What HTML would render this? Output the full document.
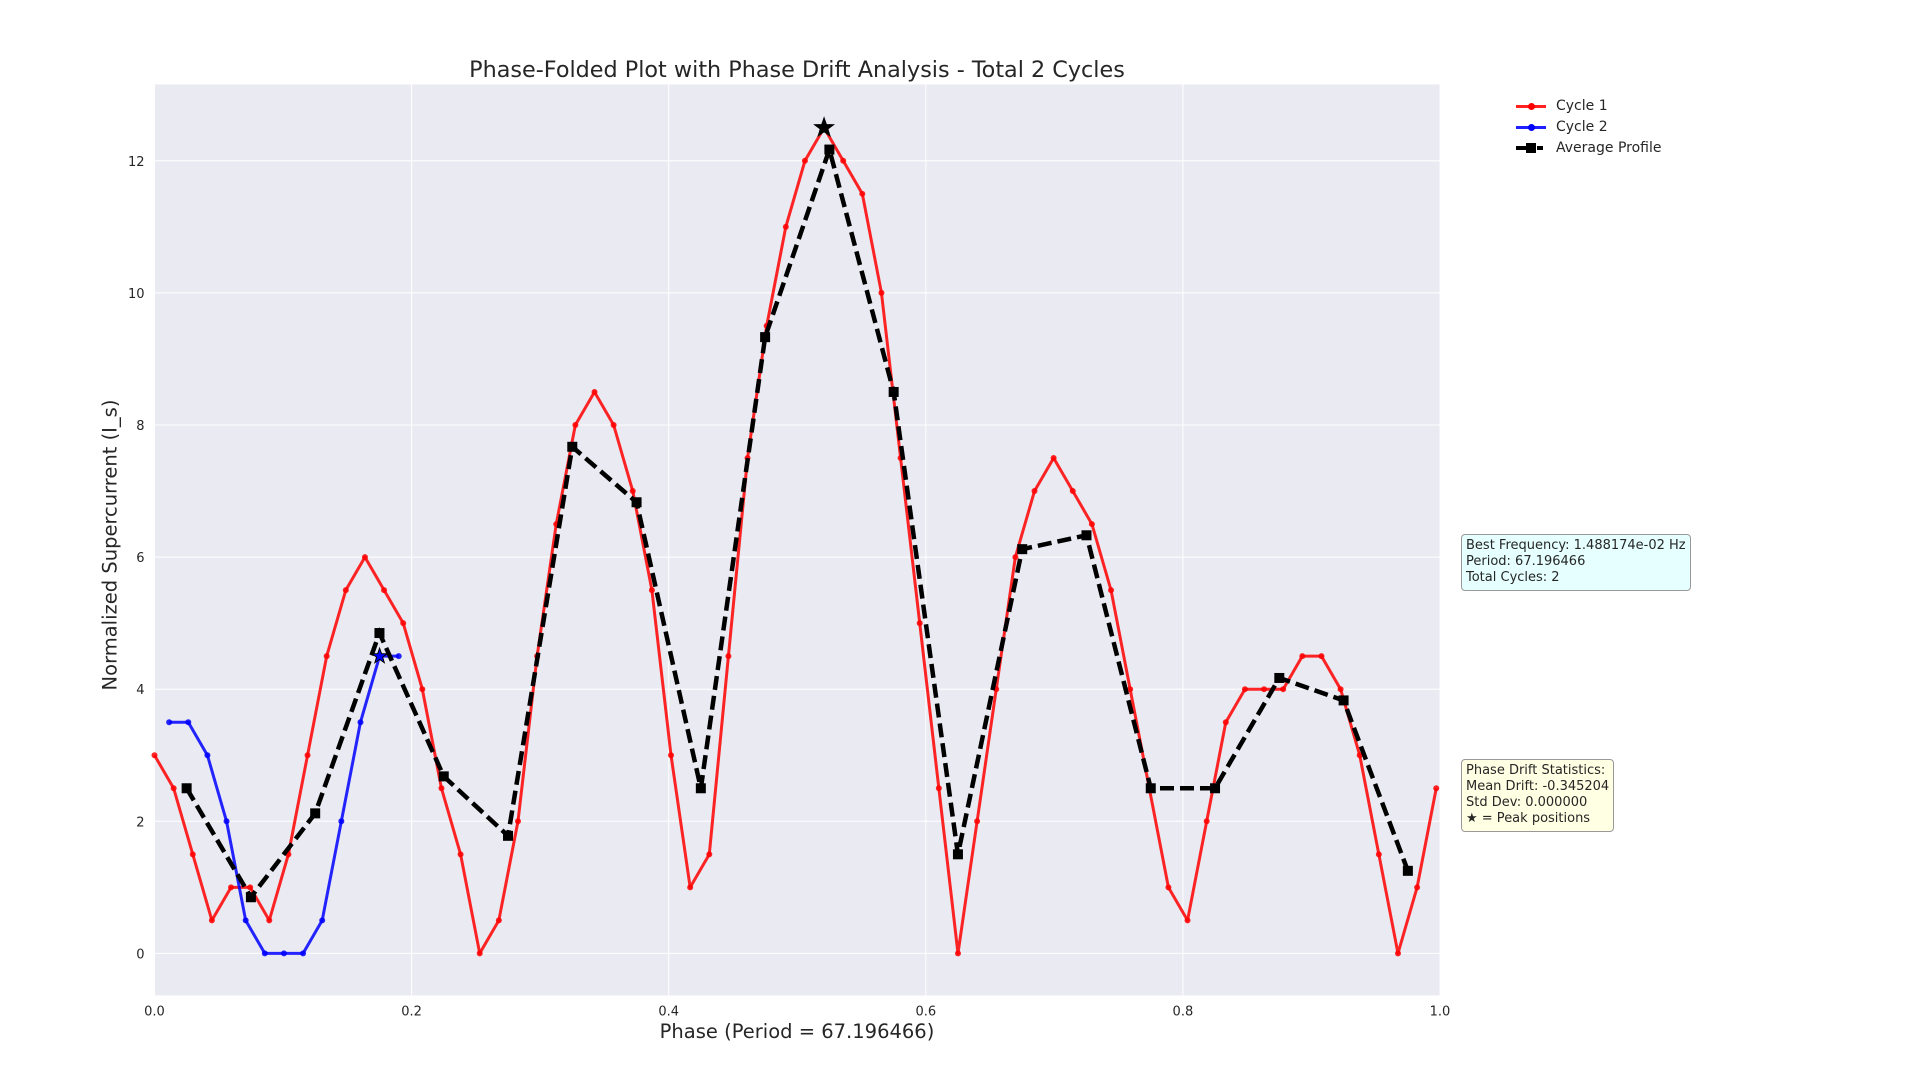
<!DOCTYPE html>
<html><head><meta charset="utf-8"><style>
body{margin:0;background:#fff;width:1920px;height:1080px;overflow:hidden;font-family:"DejaVu Sans","Liberation Sans",sans-serif;}
svg text{font-family:"DejaVu Sans","Liberation Sans",sans-serif;fill:#262626;}
</style></head><body>
<svg id="c" width="1920" height="1080"></svg>
<script>
const cycle1 = [3,2.5,1.5,0.5,1,1,0.5,1.5,3,4.5,5.5,6,5.5,5,4,2.5,1.5,0,0.5,2,4.5,6.5,8,8.5,8,7,5.5,3,1,1.5,4.5,7.5,9.5,11,12,12.5,12,11.5,10,7.5,5,2.5,0,2,4,6,7,7.5,7,6.5,5.5,4,2.5,1,0.5,2,3.5,4,4,4,4.5,4.5,4,3,1.5,0,1,2.5];
const cycle2 = [3.5,3.5,3,2,0.5,0,0,0,0.5,2,3.5,4.5,4.5];
const cycle2Offset = 0.0114;
const period = 67.196466;
const avgPhase = [0.025,0.075,0.125,0.175,0.225,0.275,0.325,0.375,0.425,0.475,0.525,0.575,0.625,0.675,0.725,0.775,0.825,0.875,0.925,0.975];
const avgValues = [2.5,0.85,2.12,4.85,2.68,1.78,7.67,6.83,2.5,9.33,12.17,8.5,1.5,6.12,6.33,2.5,2.5,4.17,3.83,1.25];
const xTicks = [0,0.2,0.4,0.6,0.8,1.0];
const xTickLabels = ["0.0","0.2","0.4","0.6","0.8","1.0"];
const yTicks = [0,2,4,6,8,10,12];

const svg = document.getElementById('c');
const NS = 'http://www.w3.org/2000/svg';
const L=154.5,R=1440,T=84.5,B=995.4, yMin=-0.636, yMax=13.155;
const X = p => L + p*(R-L);
const Y = v => B - (v-yMin)/(yMax-yMin)*(B-T);
function el(tag, attrs, parent){const e=document.createElementNS(NS,tag);for(const k in attrs)e.setAttribute(k,attrs[k]);(parent||svg).appendChild(e);return e;}

const bg = el('rect',{x:L,y:T,width:R-L,height:B-T,fill:'#EAEAF2'});


xTicks.forEach((t,i)=>{
  const g=el('line',{x1:X(t),x2:X(t),y1:T,y2:B,stroke:'#fff','stroke-width':1});
  
  
  const tx=el('text',{x:X(t),y:B+20,'text-anchor':'middle','font-size':13});
  tx.textContent=xTickLabels[i];
  
  
});
yTicks.forEach(t=>{
  const g=el('line',{x1:L,x2:R,y1:Y(t),y2:Y(t),stroke:'#fff','stroke-width':1});
  
  
  const tx=el('text',{x:L-10,y:Y(t)+5,'text-anchor':'end','font-size':13});
  tx.textContent=t;
  
  
});

function series(ph, vals, color, name){
  const pts = vals.map((v,i)=>X(ph[i])+','+Y(v)).join(' ');
  const pl=el('polyline',{points:pts,fill:'none',stroke:color,'stroke-width':3,'stroke-opacity':0.85,'stroke-linejoin':'round'});
  
  
  vals.forEach((v,i)=>{
    const c=el('circle',{cx:X(ph[i]),cy:Y(v),r:3,fill:color,'fill-opacity':0.85});
    
    
  });
}
series(cycle1.map((v,i)=>i/period), cycle1, '#ff0000', 'cycle-1');
series(cycle2.map((v,i)=>cycle2Offset+i/period), cycle2, '#0000ff', 'cycle-2');

const ap = avgValues.map((v,i)=>X(avgPhase[i])+','+Y(v)).join(' ');
const al=el('polyline',{points:ap,fill:'none',stroke:'#000','stroke-width':4.5,'stroke-dasharray':'14,6'});


avgValues.forEach((v,i)=>{
  const s=el('rect',{x:X(avgPhase[i])-5,y:Y(v)-5,width:10,height:10,fill:'#000'});
  
  
});

function star(cx,cy,r,color,name){
  let p=[];for(let k=0;k<10;k++){const a=-Math.PI/2+k*Math.PI/5;const rr=k%2?r*0.4:r;p.push((cx+rr*Math.cos(a))+','+(cy+rr*Math.sin(a)));}
  const s=el('polygon',{points:p.join(' '),fill:color,stroke:'#000','stroke-width':1});
  
  
}
const i1=cycle1.indexOf(Math.max(...cycle1));
star(X(i1/period),Y(cycle1[i1]),10,'#000','cycle-1-peak-star');
const i2=cycle2.indexOf(Math.max(...cycle2));
star(X(cycle2Offset+i2/period),Y(cycle2[i2]),8,'#0000ff','cycle-2-peak-star');
</script>
<div style="position:absolute;left:0;top:0;width:1920px;height:1080px;pointer-events:none;">
<div style="position:absolute;left:154px;width:1286px;top:57px;text-align:center;font-size:22.3px;color:#262626;">Phase-Folded Plot with Phase Drift Analysis - Total 2 Cycles</div>
<div style="position:absolute;left:154px;width:1286px;top:1020px;text-align:center;font-size:19.5px;color:#262626;">Phase (Period = 67.196466)</div>
<div style="position:absolute;left:110px;top:545px;width:0;height:0;"><div style="position:absolute;transform:translate(-50%,-50%) rotate(-90deg);white-space:nowrap;font-size:19.5px;color:#262626;">Normalized Supercurrent (I_s)</div></div>
<div style="position:absolute;left:1516px;top:96px;font-size:14px;color:#262626;line-height:21px;">
 <div><span style="display:inline-block;width:30px;height:3px;background:#ff2020;vertical-align:middle;position:relative;margin-right:10px"><span style="position:absolute;left:12px;top:-2px;width:7px;height:7px;border-radius:50%;background:#f00"></span></span>Cycle 1</div>
 <div><span style="display:inline-block;width:30px;height:3px;background:#2020ff;vertical-align:middle;position:relative;margin-right:10px"><span style="position:absolute;left:12px;top:-2px;width:7px;height:7px;border-radius:50%;background:#00f"></span></span>Cycle 2</div>
 <div><span style="display:inline-block;width:30px;height:4px;vertical-align:middle;position:relative;margin-right:10px;background:linear-gradient(90deg,#000 0 16px,transparent 16px 21px,#000 21px 27px,transparent 27px)"><span style="position:absolute;left:10px;top:-3px;width:10px;height:10px;background:#000"></span></span>Average Profile</div>
</div>
<div style="position:absolute;left:1461px;top:534px;white-space:nowrap;padding:3px 4px 4px 4px;background:#E6FFFF;border:1px solid #999;border-radius:4px;font-size:13px;line-height:16px;color:#262626;">Best Frequency: 1.488174e-02 Hz<br>Period: 67.196466<br>Total Cycles: 2</div>
<div style="position:absolute;left:1461px;top:759px;white-space:nowrap;padding:3px 4px 4px 4px;background:#FFFFE4;border:1px solid #999;border-radius:4px;font-size:13px;line-height:16px;color:#262626;">Phase Drift Statistics:<br>Mean Drift: -0.345204<br>Std Dev: 0.000000<br>★ = Peak positions</div>
</div>
</body></html>
